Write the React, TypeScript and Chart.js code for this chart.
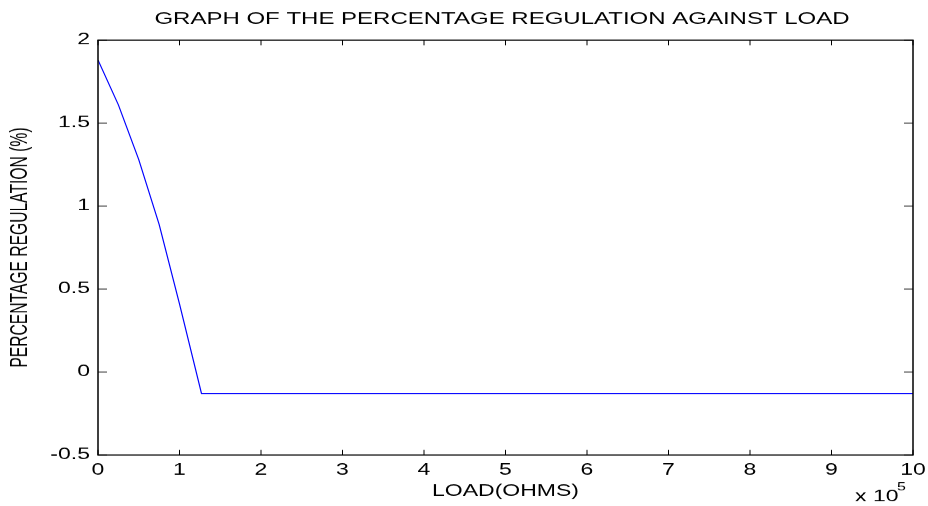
import React, { useEffect, useRef } from "react";
import { Chart, registerables } from "chart.js";

Chart.register(...registerables);

// ---- data ----
const loadOhms = [0, 25000, 50000, 75000, 100000, 127000, 1000000];
const regulationPct = [1.88, 1.61, 1.28, 0.89, 0.41, -0.13, -0.13];
const xTickValues = [0, 1, 2, 3, 4, 5, 6, 7, 8, 9, 10]; // in units of 10^5 ohms
const yTickValues = [-0.5, 0, 0.5, 1, 1.5, 2];
const xMultiplier = 1e5;
const TITLE = "GRAPH OF THE PERCENTAGE REGULATION AGAINST LOAD";
const X_LABEL = "LOAD(OHMS)";
const Y_LABEL = "PERCENTAGE REGULATION (%)";
const EXP_BASE = "x 10";
const EXP_POWER = "5";

// The reference is a figure squeezed vertically; draw tall, then squeeze.
const W = 928;
const H_VIS = 506;
const H = 744;
const FONT = '"Liberation Sans", Arial, Helvetica, sans-serif';

const matlabFrame = {
  id: "matlabFrame",
  afterDraw(chart: any) {
    const { ctx, chartArea: a, scales } = chart;
    ctx.save();
    ctx.strokeStyle = "#000";
    ctx.lineWidth = 1.5;
    ctx.strokeRect(a.left, a.top, a.right - a.left, a.bottom - a.top);
    ctx.lineWidth = 1;
    ctx.beginPath();
    for (const t of xTickValues) {
      const px = scales.x.getPixelForValue(t * xMultiplier);
      ctx.moveTo(px, a.bottom);
      ctx.lineTo(px, a.bottom - 7.5);
      ctx.moveTo(px, a.top);
      ctx.lineTo(px, a.top + 7.5);
    }
    for (const t of yTickValues) {
      const py = scales.y.getPixelForValue(t);
      ctx.moveTo(a.left, py);
      ctx.lineTo(a.left + 9, py);
      ctx.moveTo(a.right, py);
      ctx.lineTo(a.right - 9, py);
    }
    ctx.stroke();

    ctx.fillStyle = "#000";
    ctx.textAlign = "center";
    ctx.textBaseline = "middle";
    ctx.font = `24px ${FONT}`;
    ctx.fillText(TITLE, 502, 28);

    ctx.font = `23px ${FONT}`;
    ctx.fillText(X_LABEL, (a.left + a.right) / 2, 723);

    ctx.save();
    ctx.translate(21, (a.top + a.bottom) / 2);
    ctx.rotate(-Math.PI / 2);
    ctx.fillText(Y_LABEL, 0, 0);
    ctx.restore();

    ctx.textAlign = "left";
    ctx.fillText(EXP_BASE, 855, 731);
    ctx.font = `16px ${FONT}`;
    ctx.fillText(EXP_POWER, 897, 717);
    ctx.restore();
  },
};

export default function App() {
  const ref = useRef<HTMLCanvasElement | null>(null);

  useEffect(() => {
    const canvas = ref.current;
    if (!canvas) return;
    const chart = new Chart(canvas, {
      type: "line",
      data: {
        datasets: [
          {
            data: loadOhms.map((x, i) => ({ x, y: regulationPct[i] })),
            borderColor: "#0000ff",
            borderWidth: 1.2,
            pointRadius: 0,
            tension: 0,
            fill: false,
          },
        ],
      },
      options: {
        animation: false,
        responsive: false,
        devicePixelRatio: 1,
        layout: { padding: { top: 59, right: 15, left: 0, bottom: 0 } },
        plugins: {
          legend: { display: false },
          tooltip: { enabled: false },
          title: { display: false },
        },
        scales: {
          x: {
            type: "linear",
            min: 0,
            max: 10 * xMultiplier,
            grid: { display: false, drawTicks: false },
            border: { display: false },
            afterBuildTicks: (s: any) => {
              s.ticks = xTickValues.map((v) => ({ value: v * xMultiplier }));
            },
            afterFit: (s: any) => {
              s.height = 75;
              s.paddingLeft = 0;
              s.paddingRight = 0;
            },
            ticks: {
              autoSkip: false,
              maxRotation: 0,
              padding: 9,
              color: "#000",
              font: { family: FONT, size: 23 },
              callback: (v: any) => String(Number(v) / xMultiplier),
            },
          },
          y: {
            type: "linear",
            min: -0.5,
            max: 2,
            grid: { display: false, drawTicks: false },
            border: { display: false },
            afterBuildTicks: (s: any) => {
              s.ticks = yTickValues.map((v) => ({ value: v }));
            },
            afterFit: (s: any) => {
              s.width = 98;
              s.paddingTop = 0;
              s.paddingBottom = 0;
            },
            ticks: {
              autoSkip: false,
              padding: 8,
              color: "#000",
              font: { family: FONT, size: 23 },
              callback: (v: any) => String(v),
            },
          },
        },
      },
      plugins: [matlabFrame],
    });
    return () => chart.destroy();
  }, []);

  return (
    <div
      style={{
        position: "fixed",
        left: 0,
        top: 0,
        width: W,
        height: H_VIS,
        overflow: "hidden",
        background: "#fff",
      }}
    >
      <canvas
        ref={ref}
        width={W}
        height={H}
        style={{ transform: `scaleY(${H_VIS / H})`, transformOrigin: "0 0" }}
      />
    </div>
  );
}
